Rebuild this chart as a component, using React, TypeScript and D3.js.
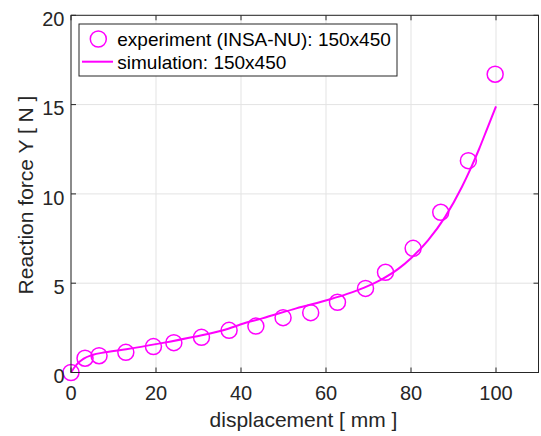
import React from "react";
import * as d3 from "d3";

const expX = [0, 3.3, 6.6, 12.9, 19.4, 24.2, 30.7, 37.2, 43.5, 49.9, 56.4, 62.7, 69.3, 74.0, 80.5, 87.0, 93.5, 99.8];
const expY = [0, 0.8, 0.94, 1.13, 1.45, 1.67, 1.97, 2.36, 2.6, 3.07, 3.35, 3.93, 4.71, 5.61, 6.95, 8.97, 11.86, 16.7];

const simX = [0, 1, 2, 3, 5, 8, 13, 21, 29, 37, 40, 45, 53, 61, 65, 69, 73, 77, 80, 84, 88, 92, 94, 96, 98, 100];
const simY = [0, 0.35, 0.6, 0.78, 0.98, 1.13, 1.3, 1.63, 2.0, 2.45, 2.7, 3.03, 3.59, 4.1, 4.4, 4.75, 5.2, 5.8, 6.4, 7.4, 8.7, 10.4, 11.4, 12.5, 13.7, 14.9];

const xTicks = [0, 20, 40, 60, 80, 100];
const yTicks = [0, 5, 10, 15, 20];

const legendLabels = ["experiment (INSA-NU): 150x450", "simulation: 150x450"];
const xLabel = "displacement [ mm ]";
const yLabel = "Reaction force Y [ N ]";

export default function App() {
  const W = 541, H = 436;
  const left = 71, right = 538.5, top = 15.3, bottom = 372.5;
  const x = d3.scaleLinear().domain([0, 110]).range([left, right]);
  const y = d3.scaleLinear().domain([0, 20]).range([bottom, top]);
  const axisColor = "#262626";
  const gridColor = "#e3e3e3";
  const magenta = "#ff00ff";
  const font = "'Liberation Sans', Arial, Helvetica, sans-serif";
  const line = d3
    .line<number>()
    .x((_, i) => x(simX[i]))
    .y((d) => y(d))
    .curve(d3.curveMonotoneX);
  const tickLen = 5;
  return (
    <svg width={W} height={H} style={{ position: "absolute", left: 0, top: 0, background: "#fff" }}>
      <rect x={0} y={0} width={W} height={H} fill="#fff" />
      {xTicks.map((t) => (
        <line key={"gx" + t} x1={x(t)} x2={x(t)} y1={top} y2={bottom} stroke={gridColor} strokeWidth={1} />
      ))}
      {yTicks.map((t) => (
        <line key={"gy" + t} x1={left} x2={right} y1={y(t)} y2={y(t)} stroke={gridColor} strokeWidth={1} />
      ))}
      <path d={line(simY) || ""} fill="none" stroke={magenta} strokeWidth={2} />
      {expX.map((v, i) => (
        <circle key={"c" + i} cx={x(v)} cy={y(expY[i])} r={8} fill="none" stroke={magenta} strokeWidth={1.5} />
      ))}
      <rect x={left} y={top} width={right - left} height={bottom - top} fill="none" stroke={axisColor} strokeWidth={1} />
      {xTicks.map((t) => (
        <g key={"tx" + t}>
          <line x1={x(t)} x2={x(t)} y1={bottom} y2={bottom - tickLen} stroke={axisColor} />
          <line x1={x(t)} x2={x(t)} y1={top} y2={top + tickLen} stroke={axisColor} />
          <text x={x(t)} y={400} textAnchor="middle" fontFamily={font} fontSize={20} fill={axisColor}>
            {t}
          </text>
        </g>
      ))}
      {yTicks.map((t) => (
        <g key={"ty" + t}>
          <line x1={left} x2={left + tickLen} y1={y(t)} y2={y(t)} stroke={axisColor} />
          <line x1={right} x2={right - tickLen} y1={y(t)} y2={y(t)} stroke={axisColor} />
          <text x={left - 6.5} y={y(t) + 10.7} textAnchor="end" fontFamily={font} fontSize={20} fill={axisColor}>
            {t}
          </text>
        </g>
      ))}
      <text x={303.5} y={427} textAnchor="middle" fontFamily={font} fontSize={21} fill={axisColor}>
        {xLabel}
      </text>
      <text
        transform={`translate(33, 195) rotate(-90)`}
        textAnchor="middle"
        fontFamily={font}
        fontSize={21}
        fill={axisColor}
      >
        {yLabel}
      </text>
      <rect x={79} y={24} width={318} height={52} fill="#fff" stroke={axisColor} strokeWidth={1} />
      <circle cx={98.3} cy={39} r={8} fill="none" stroke={magenta} strokeWidth={1.5} />
      <text x={117.3} y={45.8} fontFamily={font} fontSize={19} fill="#000">
        {legendLabels[0]}
      </text>
      <line x1={82} x2={113} y1={61.7} y2={61.7} stroke={magenta} strokeWidth={2} />
      <text x={117.3} y={68.5} fontFamily={font} fontSize={19} fill="#000">
        {legendLabels[1]}
      </text>
    </svg>
  );
}
